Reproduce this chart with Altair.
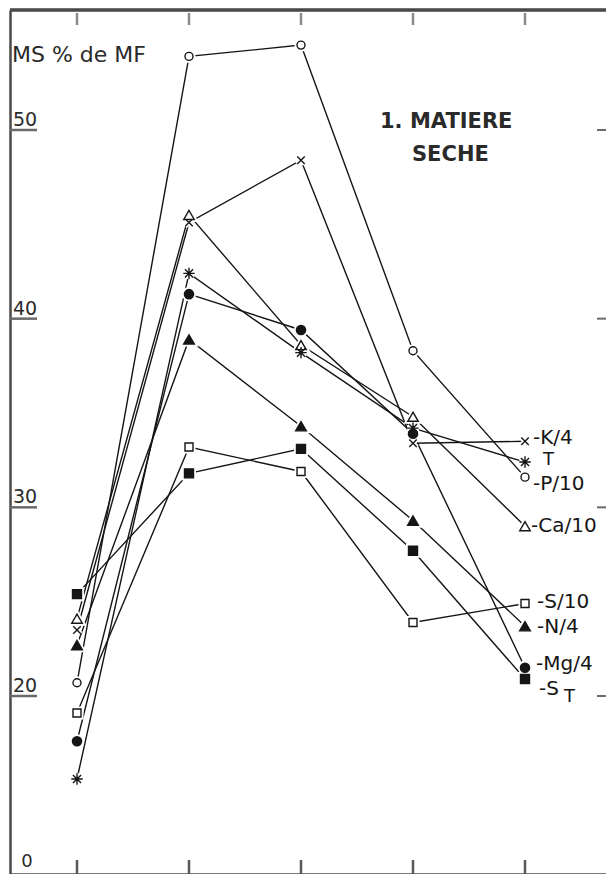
import altair as alt
import pandas as pd

# ---- data ----
x_positions = [1, 2, 3, 4, 5]
series_names = ["P/10", "K/4", "Ca/10", "T", "Mg/4", "N/4", "S/10", "ST"]
P10 = [20.7, 53.9, 54.5, 38.3, 31.6]
K4 = [23.5, 45.1, 48.4, 33.4, 33.5]
Ca10 = [24.1, 45.5, 38.6, 34.8, 29.0]
T = [15.6, 42.4, 38.2, 34.2, 32.4]
Mg4 = [17.6, 41.3, 39.4, 33.9, 21.5]
N4 = [22.7, 38.9, 34.3, 29.3, 23.7]
S10 = [19.1, 33.2, 31.9, 23.9, 24.9]
ST = [25.4, 31.8, 33.1, 27.7, 20.9]
series_values = [P10, K4, Ca10, T, Mg4, N4, S10, ST]
label_texts = ["-P/10", "-K/4", "-Ca/10", "T", "-Mg/4", "-N/4", "-S/10", "-S"]
subscript_text = "T"
y_tick_values = [20, 30, 40, 50]
y_tick_labels = ["20", "30", "40", "50"]
bottom_label = "0"
y_title = "MS % de MF"
panel_title = ["1. MATIERE", "SECHE"]

# ---- layout / style ----
W, H = 596, 864
X_DOMAIN = [0.4018, 5.7232]
Y_DOMAIN = [10.566, 56.36]
FONT = "DejaVu Sans"
FRAME = "#4a4a4a"
TICKC = "#8a8a8a"
INK = "#151515"

X_PATH = "M-1,-1L1,1M-1,1L1,-1"
AST_PATH = "M0,-1L0,1M-1,0L1,0M-0.71,-0.71L0.71,0.71M-0.71,0.71L0.71,-0.71"
marker_styles = {
    "P/10": dict(shape="circle", size=64, fill="white"),
    "K/4": dict(shape=X_PATH, size=56, fill="white"),
    "Ca/10": dict(shape="triangle-up", size=110, fill="white"),
    "T": dict(shape=AST_PATH, size=130, fill="white"),
    "Mg/4": dict(shape="circle", size=85, fill=INK),
    "N/4": dict(shape="triangle-up", size=115, fill=INK),
    "S/10": dict(shape="square", size=64, fill="white"),
    "ST": dict(shape="square", size=81, fill=INK),
}
label_offsets = {
    "P/10": (8, 7), "K/4": (8, -3), "Ca/10": (6, 0), "T": (18, -2),
    "Mg/4": (11, -4), "N/4": (12, 1), "S/10": (12, -2), "ST": (14, 10),
}
label_sizes = {"T": 18}
sub_offset = (39, 18)

rows = []
for name, vals in zip(series_names, series_values):
    for xv, v in zip(x_positions, vals):
        rows.append({"series": name, "x": xv, "v": v})
df = pd.DataFrame(rows)

xs = alt.Scale(domain=X_DOMAIN, nice=False, zero=False)
ys = alt.Scale(domain=Y_DOMAIN, nice=False, zero=False)
x_axis = alt.Axis(domain=True, domainColor=FRAME, domainWidth=2.5, labels=False,
                  ticks=False, grid=False, title=None)
y_axis = alt.Axis(domain=True, domainColor=FRAME, domainWidth=2.5, labels=False,
                  ticks=False, grid=False, title=None)

base = alt.Chart(df)
lines = base.mark_line(color=INK, strokeWidth=1.4).encode(
    x=alt.X("x:Q", scale=xs, axis=x_axis),
    y=alt.Y("v:Q", scale=ys, axis=y_axis),
    detail="series:N",
)

halos, marks, texts = [], [], []
for name in series_names:
    st = marker_styles[name]
    sub = base.transform_filter(alt.datum.series == name)
    halos.append(sub.mark_point(shape=st["shape"], size=st["size"], filled=True,
                                fill="white", stroke="white", strokeWidth=5,
                                opacity=1).encode(x="x:Q", y="v:Q"))
    marks.append(sub.mark_point(shape=st["shape"], size=st["size"], filled=True,
                                fill=st["fill"], stroke=INK, strokeWidth=1.4,
                                opacity=1).encode(x="x:Q", y="v:Q"))
    idx = series_names.index(name)
    dx, dy = label_offsets[name]
    ldf = pd.DataFrame({"x": [x_positions[-1]], "v": [series_values[idx][-1]],
                        "t": [label_texts[idx]]})
    texts.append(alt.Chart(ldf).mark_text(align="left", baseline="middle", dx=dx, dy=dy,
                                          font=FONT, fontSize=label_sizes.get(name, 20),
                                          color=INK).encode(
        x="x:Q", y="v:Q", text="t:N"))

# subscript T of S_T
st_idx = series_names.index("ST")
sdf = pd.DataFrame({"x": [x_positions[-1]], "v": [series_values[st_idx][-1]], "t": [subscript_text]})
texts.append(alt.Chart(sdf).mark_text(align="left", baseline="middle", dx=sub_offset[0],
                                      dy=sub_offset[1], font=FONT, fontSize=18,
                                      color=INK).encode(x="x:Q", y="v:Q", text="t:N"))

# y-axis labels and underline ticks, right ticks
ydf = pd.DataFrame({"v": y_tick_values, "t": y_tick_labels})
ylab = alt.Chart(ydf).mark_text(align="left", baseline="middle", dy=-10, font=FONT,
                                fontSize=19, color="#2a2a2a").encode(
    x=alt.value(3), y="v:Q", text="t:N")
yund = alt.Chart(ydf).mark_rule(color="#6a6a6a", strokeWidth=2.5).encode(
    x=alt.value(0), x2=alt.value(27), y="v:Q")
yright = alt.Chart(ydf).mark_rule(color="#6a6a6a", strokeWidth=2).encode(
    x=alt.value(W - 9), x2=alt.value(W), y="v:Q")

xdf = pd.DataFrame({"x": x_positions})
top_ticks = alt.Chart(xdf).mark_rule(color=TICKC, strokeWidth=2.5).encode(
    x="x:Q", y=alt.value(3), y2=alt.value(15))
bot_ticks = alt.Chart(xdf).mark_rule(color="#5a5a5a", strokeWidth=2.5).encode(
    x="x:Q", y=alt.value(H - 14), y2=alt.value(H))
top_border = alt.Chart(xdf).mark_rule(color=FRAME, strokeWidth=2.5).encode(
    x=alt.value(0), x2=alt.value(W), y=alt.value(0))

zdf = pd.DataFrame({"t": [bottom_label]})
zero_lab = alt.Chart(zdf).mark_text(align="center", baseline="middle", font=FONT,
                                    fontSize=18, color="#2a2a2a").encode(
    x=alt.value(17), y=alt.value(H - 12), text="t:N")

tdf = pd.DataFrame({"t": [y_title]})
title_txt = alt.Chart(tdf).mark_text(align="left", baseline="middle", font=FONT,
                                     fontSize=22, color="#2a2a2a").encode(
    x=alt.value(2), y=alt.value(45), text="t:N")

pdf1 = pd.DataFrame({"t": [panel_title[0]]})
pdf2 = pd.DataFrame({"t": [panel_title[1]]})
panel1 = alt.Chart(pdf1).mark_text(align="left", baseline="middle", font=FONT,
                                   fontSize=21, fontWeight="bold", color="#2a2a2a").encode(
    x=alt.value(370), y=alt.value(112), text="t:N")
panel2 = alt.Chart(pdf2).mark_text(align="left", baseline="middle", font=FONT,
                                   fontSize=21, fontWeight="bold", color="#2a2a2a").encode(
    x=alt.value(402), y=alt.value(145), text="t:N")

chart = alt.layer(
    lines, *halos, *marks, *texts, ylab, yund, yright, top_ticks, bot_ticks,
    top_border, zero_lab, title_txt, panel1, panel2,
).properties(
    width=W, height=H,
    autosize=alt.AutoSizeParams(type="none"),
    padding={"left": 2, "top": 2, "right": 0, "bottom": 0},
).configure_view(stroke=None).configure(background="white")

chart.save("out.html", embed_options={"renderer": "svg", "actions": False})
